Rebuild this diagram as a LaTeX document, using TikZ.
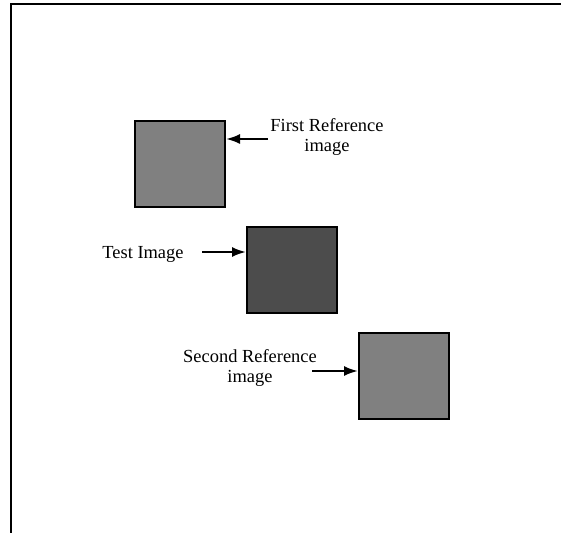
\documentclass[tikz,border=0pt]{standalone}
\usepackage{fontspec}
\setmainfont{Liberation Serif}
\usetikzlibrary{arrows.meta}
\begin{document}
\begin{tikzpicture}[x=1bp,y=-1bp,
  imgbox/.style={draw=black,line width=2bp,minimum width=90bp,minimum height=86bp,inner sep=0pt,anchor=north west},
  lbl/.style={align=center,font=\fontsize{18.5}{20.5}\selectfont,inner sep=0pt},
  arr/.style={line width=2.2bp,-{Latex[length=14bp,width=10bp]}}]
\useasboundingbox (0,0) rectangle (561,533);
\draw[line width=2.6bp] (11,533) -- (11,4) -- (561,4);
\node[imgbox,fill=black!50] (r1) at (134,120) {};
\node[imgbox,fill=black!70] (t) at (246,226) {};
\node[imgbox,fill=black!50] (r2) at (358,332) {};
\node[lbl] (l1) at (327,137) {First Reference\\image};
\node[lbl] (lt) at (143,254) {Test Image};
\node[lbl] (l2) at (250,368) {Second Reference\\image};
\coordinate (a1) at (268,139);
\coordinate (at) at (202,252);
\coordinate (a2) at (312,371);
\draw[arr] (a1) -- (r1.east |- a1);
\draw[arr] (at) -- (t.west |- at);
\draw[arr] (a2) -- (r2.west |- a2);
\end{tikzpicture}
\end{document}
